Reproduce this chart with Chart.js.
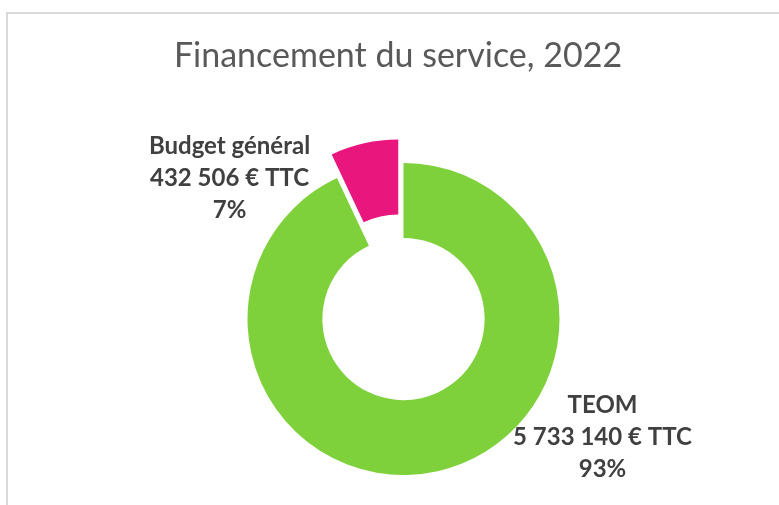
<!DOCTYPE html>
<html>
<head>
<meta charset="utf-8">
<script src="https://cdn.jsdelivr.net/npm/chart.js@4/dist/chart.umd.min.js"></script>
<style>
  html, body { margin: 0; padding: 0; background: #fff; }
  #wrap { width: 779px; height: 505px; }
</style>
</head>
<body>
<div id="wrap"><canvas id="ChartFinancement" width="779" height="505"></canvas></div>
<script>
const chartTitle = 'Financement du service, 2022';
const categories = ['TEOM', 'Budget général'];
const amounts = [5733140, 432506];
const unitSuffix = ' € TTC';
const sliceColors = ['#7fd13b', '#e9167e'];
const explode = [0, 24]; // pixels each slice is pulled out of the ring

// label anchors relative to the ring centre (x, y of the middle line baseline)
const labelAnchors = [
    { dx: 199, dy: 126 },
    { dx: -174, dy: -133 }
];

function formatAmount(v) {
    return String(v).replace(/\B(?=(\d{3})+(?!\d))/g, ' ') + unitSuffix;
}

const frameAndLabels = {
    id: 'frameAndLabels',
    afterUpdate(chart) {
        // pull slices out along their mid angle without growing them
        chart.getDatasetMeta(0).data.forEach((arc, i) => {
            const d = explode[i] || 0;
            if (!d) return;
            const half = (arc.startAngle + arc.endAngle) / 2;
            arc.x += Math.cos(half) * d;
            arc.y += Math.sin(half) * d;
        });
    },
    beforeDraw(chart) {
        const ctx = chart.ctx;
        ctx.save();
        ctx.fillStyle = '#ffffff';
        ctx.fillRect(0, 0, chart.width, chart.height);
        ctx.strokeStyle = '#d9d9d9';
        ctx.lineWidth = 2;
        ctx.strokeRect(7, 13, chart.width + 20, chart.height + 20);
        ctx.restore();
    },
    afterDraw(chart) {
        const ctx = chart.ctx;
        ctx.save();
        ctx.textAlign = 'center';
        ctx.textBaseline = 'alphabetic';
        ctx.fillStyle = '#595959';
        ctx.font = '34px Lato';
        ctx.fillText(chartTitle, 398, 67);

        const meta = chart.getDatasetMeta(0);
        const total = amounts.reduce((a, b) => a + b, 0);
        const cx = chart.chartArea.left + chart.chartArea.width / 2;
        const cy = chart.chartArea.top + chart.chartArea.height / 2;
        ctx.fillStyle = '#404040';
        ctx.font = 'bold 24px Lato';
        meta.data.forEach((arc, i) => {
            const anchor = labelAnchors[i];
            const x = cx + anchor.dx;
            const y = cy + anchor.dy;
            const pct = Math.round(amounts[i] / total * 100) + '%';
            ctx.fillText(categories[i], x, y - 32);
            ctx.fillText(formatAmount(amounts[i]), x, y);
            ctx.fillText(pct, x, y + 32);
        });
        ctx.restore();
    }
};

const ctx = document.getElementById('ChartFinancement').getContext('2d');
new Chart(ctx, {
    type: 'doughnut',
    data: {
        labels: categories,
        datasets: [{
            data: amounts,
            backgroundColor: sliceColors,
            borderWidth: 0,
            hoverOffset: 0
        }]
    },
    options: {
        responsive: false,
        animation: false,
        radius: 156,
        cutout: '52%',
        layout: { padding: { left: 28, right: 0, top: 133, bottom: 0 } },
        plugins: {
            legend: { display: false },
            tooltip: { enabled: false },
            title: { display: false }
        }
    },
    plugins: [frameAndLabels]
});
</script>
</body>
</html>
